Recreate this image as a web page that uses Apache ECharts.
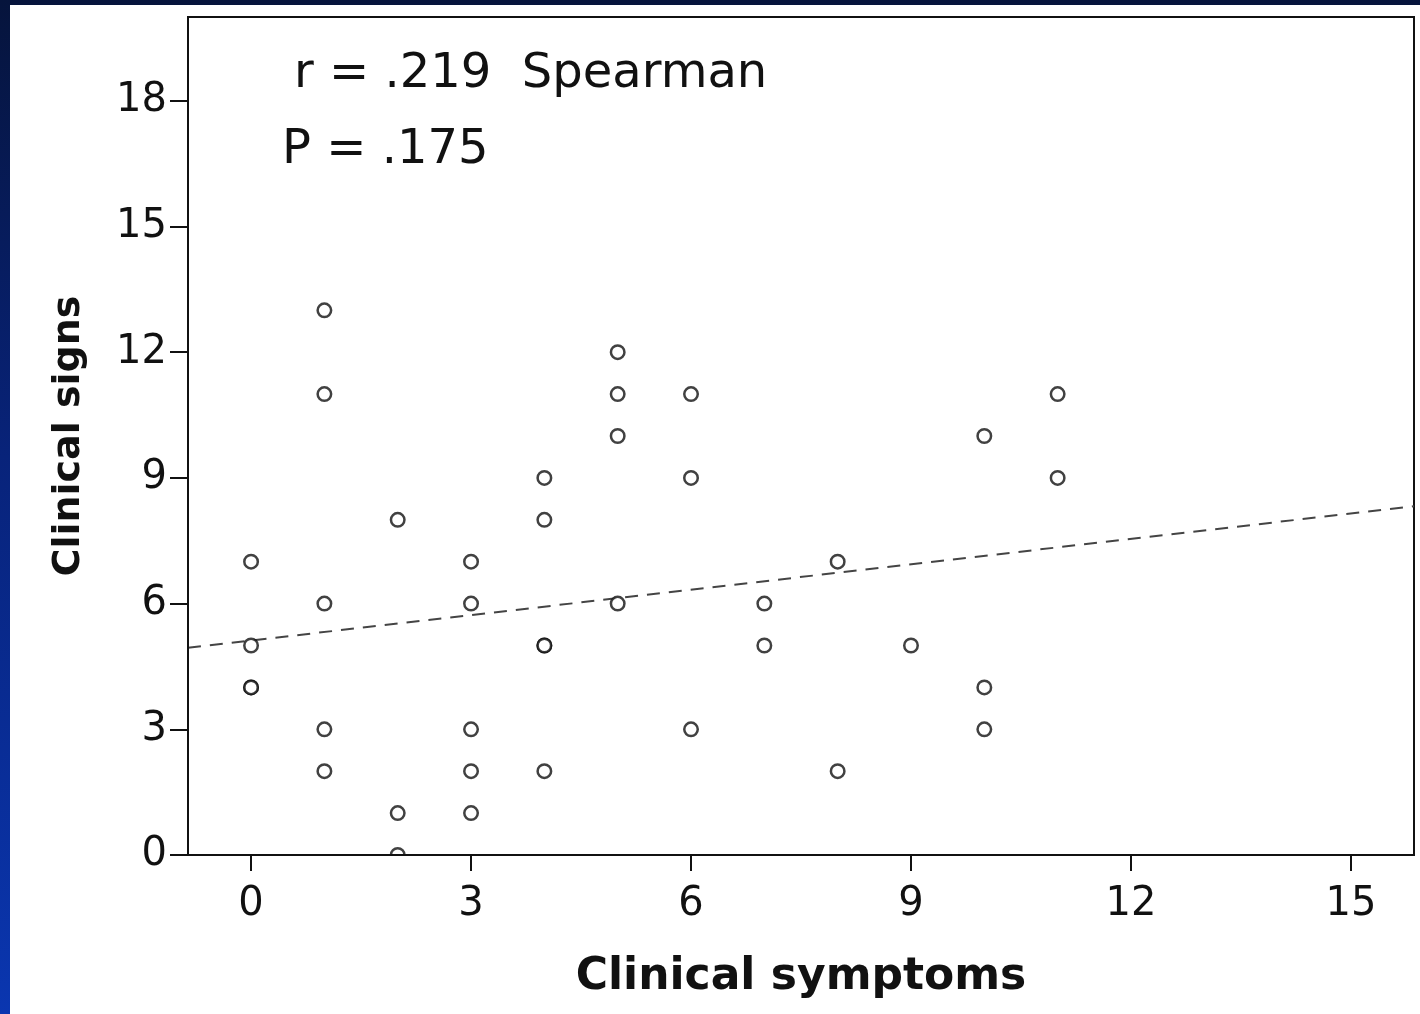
<!DOCTYPE html>
<html><head><meta charset="utf-8">
<script src="https://cdn.jsdelivr.net/npm/echarts@6/dist/echarts.min.js"></script>
<style>
html,body{margin:0;padding:0;width:1420px;height:1014px;overflow:hidden;}
body{background:linear-gradient(180deg,#06143c 0%,#08237a 45%,#0a36b0 100%);position:relative;}
#paper{position:absolute;left:10px;top:5px;right:0;bottom:0;background:#fff;}
#chart{position:absolute;left:0;top:0;width:1420px;height:1014px;}
</style></head><body><div id="paper"></div><div id="chart"></div>
<script>
// Data
const symptoms = [0,0,0,0, 1,1,1,1,1, 2,2,2, 3,3,3,3,3, 4,4,4,4,4, 5,5,5,5, 6,6,6, 7,7, 8,8, 9, 10,10,10, 11,11];
const signs    = [7,5,4,4, 13,11,6,3,2, 8,1,0, 7,6,3,2,1, 9,8,5,5,2, 12,11,10,6, 11,9,3, 6,5, 7,2, 5, 10,4,3, 11,9];
const xTicks = [0,3,6,9,12,15];
const yTicks = [0,3,6,9,12,15,18];
const xRange = [-0.86, 15.86];
const yRange = [0, 20];
const fitIntercept = 5.12;
const fitSlope = 0.202;
const statLines = ['r = .219  Spearman', 'P = .175'];
const xTitle = 'Clinical symptoms';
const yTitle = 'Clinical signs';

const points = symptoms.map((x, i) => [x, signs[i]]);
const fitData = xRange.map(x => [x, fitIntercept + fitSlope * x]);

const FONT = 'DejaVu Sans';
const INK = '#111';
const chart = echarts.init(document.getElementById('chart'), null, {renderer: 'canvas'});
chart.setOption({
  animation: false,
  backgroundColor: 'transparent',
  grid: {left: 188, right: 6, top: 17, bottom: 159, show: true, borderColor: INK, borderWidth: 2, backgroundColor: 'transparent'},
  xAxis: {
    type: 'value', min: xRange[0], max: xRange[1], z: 5,
    name: xTitle, nameLocation: 'middle', nameGap: 101,
    nameTextStyle: {fontFamily: FONT, fontWeight: 'bold', fontSize: 44, color: INK},
    axisLine: {onZero: false, lineStyle: {color: INK, width: 2}},
    axisTick: {show: true, length: 16, lineStyle: {color: INK, width: 2}, customValues: xTicks},
    axisLabel: {customValues: xTicks, fontFamily: FONT, fontSize: 40, color: INK, margin: 30},
    splitLine: {show: false}
  },
  yAxis: {
    type: 'value', min: yRange[0], max: yRange[1], z: 5,
    name: yTitle, nameLocation: 'middle', nameGap: 100, nameRotate: 90,
    nameTextStyle: {fontFamily: FONT, fontWeight: 'bold', fontSize: 38, color: INK},
    axisLine: {onZero: false, lineStyle: {color: INK, width: 2}},
    axisTick: {show: true, length: 18, lineStyle: {color: INK, width: 2}, customValues: yTicks},
    axisLabel: {customValues: yTicks, fontFamily: FONT, fontSize: 40, color: INK, margin: 21, padding: [6, 0, 0, 0]},
    splitLine: {show: false}
  },
  graphic: [
    {type: 'rect', z: 3, silent: true, shape: {x: 10, y: 856, width: 1410, height: 158}, style: {fill: '#fff'}},
    {type: 'text', z: 10, x: 294, y: 75, style: {text: statLines[0], fontFamily: FONT, fontSize: 48, fill: INK, verticalAlign: 'middle'}},
    {type: 'text', z: 10, x: 282, y: 151, style: {text: statLines[1], fontFamily: FONT, fontSize: 48, fill: INK, verticalAlign: 'middle'}}
  ],
  series: [
    {type: 'line', data: fitData, symbol: 'none', z: 1, silent: true,
     lineStyle: {color: '#444', width: 2, type: [13, 9]}},
    {type: 'scatter', data: points, symbol: 'circle', symbolSize: 13.5, z: 2,
     itemStyle: {color: '#fff', borderColor: INK, borderWidth: 2.5}}
  ]
});
</script></body></html>
